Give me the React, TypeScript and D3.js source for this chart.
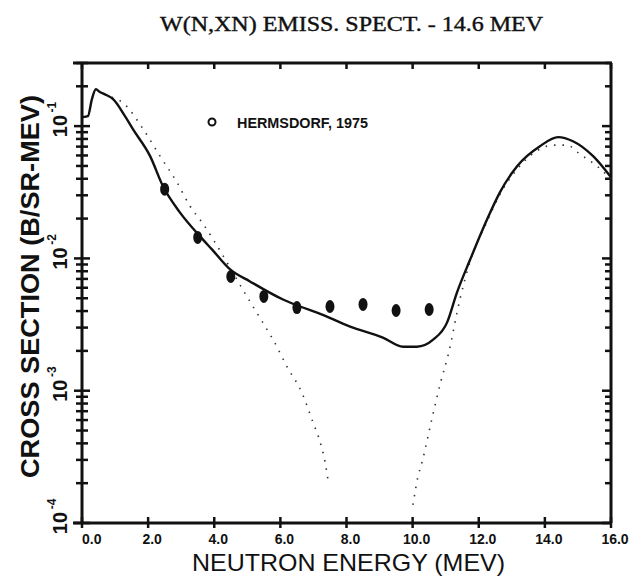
import React from 'react'
import * as d3 from 'd3'

// total calculated spectrum (solid)
const solidE = [0.03, 0.18, 0.3, 0.42, 0.54, 0.73, 0.94, 1.3, 1.54, 2.06, 2.45, 2.96, 3.57, 3.93, 4.48, 5.08, 6.08, 6.59, 7.11, 8.11, 9.1, 9.71, 10.13, 10.62, 11.04, 11.34, 11.74, 12.25, 12.64, 13.16, 13.85, 14.4, 14.85, 15.46, 16.0]
const solidV = [0.117, 0.119, 0.16, 0.19, 0.181, 0.172, 0.16, 0.119, 0.0949, 0.0593, 0.0351, 0.0223, 0.01468, 0.0117, 0.00825, 0.0067, 0.00489, 0.00433, 0.0039, 0.00305, 0.00252, 0.00215, 0.00215, 0.00243, 0.00327, 0.00552, 0.0098, 0.0197, 0.0316, 0.0498, 0.0705, 0.0826, 0.0769, 0.0593, 0.0411]

// low-energy component (dotted)
const lowE = [0.9, 1.21, 1.85, 2.36, 2.87, 3.27, 3.63, 5.08, 5.47, 5.78, 6.2, 6.65, 6.99, 7.2, 7.35, 7.44]
const lowV = [0.165, 0.152, 0.095, 0.0593, 0.0377, 0.0248, 0.0187, 0.00472, 0.00327, 0.00243, 0.00152, 0.000966, 0.000573, 0.000411, 0.00029, 0.000212]

// high-energy component (dotted)
const highE = [10.01, 10.16, 10.28, 10.59, 10.86, 11.07, 11.43, 11.74, 12.25, 12.64, 13.16, 13.85, 14.25, 14.67, 15.06, 15.58, 16.0]
const highV = [0.000137, 0.000223, 0.000285, 0.000624, 0.00119, 0.00184, 0.0049, 0.0095, 0.019, 0.0305, 0.0472, 0.067, 0.0718, 0.0718, 0.0614, 0.0498, 0.0398]

// Hermsdorf, 1975
const dataE = [2.5, 3.5, 4.5, 5.5, 6.5, 7.5, 8.5, 9.5, 10.5]
const dataV = [0.0334, 0.0144, 0.0073, 0.00516, 0.00425, 0.00433, 0.00449, 0.00404, 0.00411]

const xTicks = [0, 2, 4, 6, 8, 10, 12, 14, 16]
const xTickLabels = ['0.0', '2.0', '4.0', '6.0', '8.0', '10.0', '12.0', '14.0', '16.0']
const decades = [-1, -2, -3, -4]

const W = 633
const H = 580
const left = 82
const right = 611
const top = 63
const bottom = 523

export default function App() {
  const x = d3.scaleLinear().domain([0, 16]).range([left, right])
  const y = d3.scaleLog().domain([1e-4, 0.3]).range([bottom, top])

  const line = d3.line<[number, number]>()
    .x((d) => x(d[0]))
    .y((d) => y(d[1]))
    .curve(d3.curveMonotoneX)

  const zip = (a: number[], b: number[]) => a.map((v, i) => [v, b[i]] as [number, number])

  const yTicks: { v: number; major: boolean }[] = []
  for (let d = -4; d <= -1; d++) {
    for (let m = 1; m <= 9; m++) {
      const v = m * Math.pow(10, d)
      if (v <= 0.3 + 1e-9) yTicks.push({ v, major: m === 1 })
    }
  }

  const ink = '#111'
  const sans = "'Liberation Sans', Arial, sans-serif"

  return (
    <svg width={W} height={H} style={{ position: 'absolute', left: 0, top: 0, background: '#fff' }}>
      <text x={160} y={31} fontFamily="'Liberation Serif', serif" fontSize={21} textLength={383}
        lengthAdjust="spacingAndGlyphs" fill={ink} stroke={ink} strokeWidth={0.4}>W(N,XN) EMISS. SPECT. - 14.6 MEV</text>

      {/* frame */}
      <g stroke={ink} strokeWidth={3} fill="none">
        <line x1={left - 9} x2={right + 1} y1={top} y2={top} />
        <line x1={left - 9} x2={right + 1} y1={bottom} y2={bottom} />
        <line x1={left} x2={left} y1={top} y2={bottom} />
        <line x1={right} x2={right} y1={top} y2={bottom} />
      </g>

      {/* x ticks */}
      <g stroke={ink} strokeWidth={2.5}>
        {xTicks.map((t) => (
          <g key={t}>
            <line x1={x(t)} x2={x(t)} y1={bottom - 6} y2={bottom + 5} />
            <line x1={x(t)} x2={x(t)} y1={top} y2={top + 6} />
          </g>
        ))}
      </g>
      {xTicks.map((t, i) => (
        <text key={t} x={i === 0 ? x(t) : x(t) + 4} y={544} textAnchor={i === 0 ? 'start' : 'middle'}
          fontFamily={sans} fontWeight="bold" fontSize={14} fill={ink}>
          {xTickLabels[i]}
        </text>
      ))}

      {/* y ticks */}
      <g stroke={ink} strokeWidth={2.5}>
        {yTicks.map((t) => (
          <g key={t.v}>
            <line x1={left - (t.major ? 8 : 6)} x2={left + (t.major ? 8 : 6)} y1={y(t.v)} y2={y(t.v)} />
            <line x1={right - (t.major ? 9 : 6)} x2={right} y1={y(t.v)} y2={y(t.v)} />
          </g>
        ))}
      </g>
      {decades.map((d) => (
        <g key={d} transform={`translate(67,${y(Math.pow(10, d))}) rotate(-90)`}
          fontFamily={sans} fill={ink}>
          <text x={0} y={0} textAnchor="middle" fontSize={20} fontWeight="bold">10</text>
          <text x={19} y={-11} textAnchor="middle" fontSize={12} fontWeight="bold">{`-${-d}`}</text>
        </g>
      ))}

      {/* axis titles */}
      <text transform={`translate(39,${(95 + 478) / 2}) rotate(-90)`} textAnchor="middle"
        fontFamily={sans} fontWeight="bold" fontSize={26}
        textLength={383} lengthAdjust="spacingAndGlyphs" fill={ink}>CROSS SECTION (B/SR-MEV)</text>
      <text x={(192 + 505) / 2} y={571} textAnchor="middle"
        fontFamily={sans} fontSize={24}
        textLength={313} lengthAdjust="spacingAndGlyphs" fill={ink}>NEUTRON ENERGY (MEV)</text>

      {/* curves */}
      <path d={line(zip(lowE, lowV)) ?? ''} fill="none" stroke="#333" strokeWidth={1.6} strokeDasharray="1.5 7" />
      <path d={line(zip(highE, highV)) ?? ''} fill="none" stroke="#333" strokeWidth={1.6} strokeDasharray="1.5 7" />
      <path d={line(zip(solidE, solidV)) ?? ''} fill="none" stroke={ink} strokeWidth={2.4} />

      {/* data */}
      {dataE.map((e, i) => (
        <ellipse key={e} cx={x(e)} cy={y(dataV[i])} rx={4.5} ry={6.5} fill={ink} />
      ))}

      {/* legend */}
      <circle cx={212} cy={122} r={3.5} fill="none" stroke={ink} strokeWidth={2} />
      <text x={237} y={128} fontFamily={sans} fontWeight="bold" fontSize={15}
        textLength={131} lengthAdjust="spacingAndGlyphs" fill={ink}>HERMSDORF, 1975</text>
    </svg>
  )
}
